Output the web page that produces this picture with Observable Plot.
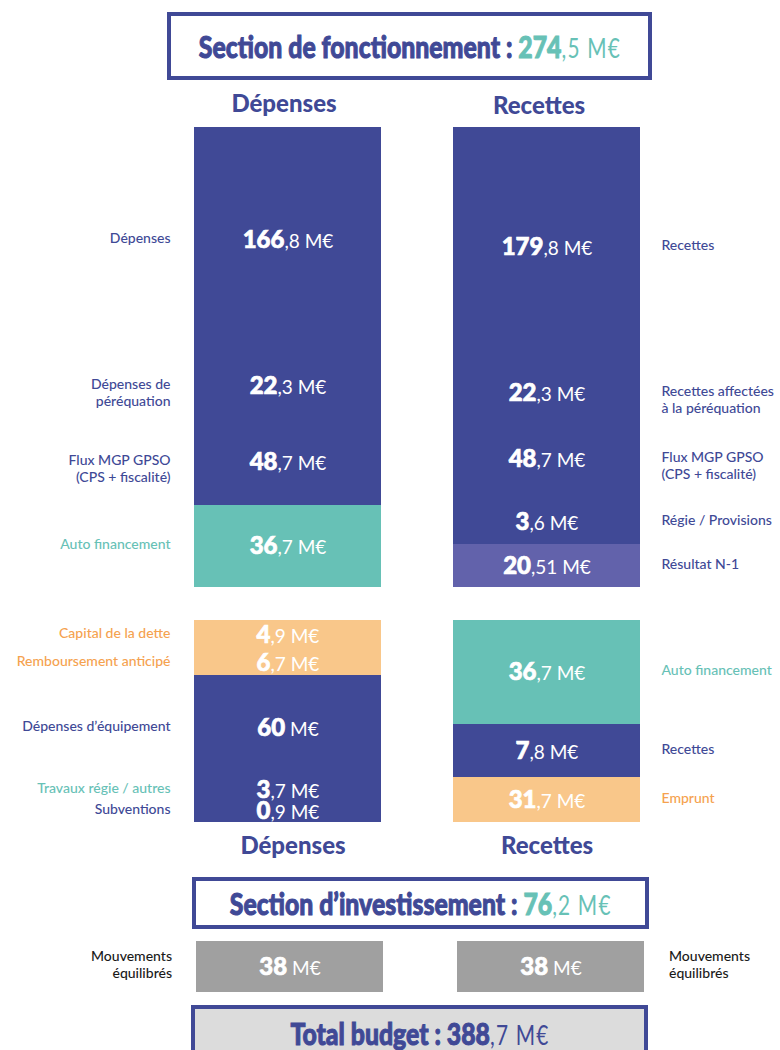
<!DOCTYPE html>
<html><head><meta charset="utf-8">
<script src="https://cdn.jsdelivr.net/npm/d3@7"></script>
<script src="https://cdn.jsdelivr.net/npm/@observablehq/plot@0.6"></script>
<style>
body{margin:0;background:#fff;font-family:Lato,"Noto Sans",sans-serif;}
#page{position:relative;width:780px;height:1050px;overflow:hidden;background:#fff;}
.box{position:absolute;box-sizing:border-box;border:4px solid #404996;display:flex;align-items:center;justify-content:center;}
.t{display:inline-block;white-space:nowrap;transform:scaleX(0.8);color:#404996;font-weight:900;font-size:31px;line-height:1;-webkit-text-stroke:1px currentColor;}
.t .d{font-weight:400;font-size:26px;letter-spacing:1.5px;-webkit-text-stroke:0;}
.plot{position:absolute;}
.plot svg{overflow:visible;display:block;}
</style></head><body><div id="page"></div>
<script>
// ---------- data ----------
const sectionTitles = ["Section de fonctionnement :", "Section d’investissement :", "Total budget :"];
const sectionTotals = [274.5, 76.2, 388.7];

const fonctDepColumn = "Dépenses";
const fonctDepLabels = ["Dépenses", "Dépenses de\npéréquation", "Flux MGP GPSO\n(CPS + fiscalité)", "Auto financement"];
const fonctDepValues = [166.8, 22.3, 48.7, 36.7];
const fonctDepNatures = ["fonctionnement", "fonctionnement", "fonctionnement", "autofinancement"];

const fonctRecColumn = "Recettes";
const fonctRecLabels = ["Recettes", "Recettes affectées\nà la péréquation", "Flux MGP GPSO\n(CPS + fiscalité)", "Régie / Provisions", "Résultat N-1"];
const fonctRecValues = [179.8, 22.3, 48.7, 3.6, 20.51];
const fonctRecNatures = ["fonctionnement", "fonctionnement", "fonctionnement", "fonctionnement", "resultat"];

const invDepColumn = "Dépenses";
const invDepLabels = ["Capital de la dette", "Remboursement anticipé", "Dépenses d’équipement", "Travaux régie / autres", "Subventions"];
const invDepValues = [4.9, 6.7, 60, 3.7, 0.9];
const invDepNatures = ["dette", "dette", "fonctionnement", "regie", "fonctionnement"];

const invRecColumn = "Recettes";
const invRecLabels = ["Auto financement", "Recettes", "Emprunt"];
const invRecValues = [36.7, 7.8, 31.7];
const invRecNatures = ["autofinancement", "fonctionnement", "dette"];

const mvColumns = ["Dépenses", "Recettes"];
const mvLabels = ["Mouvements\néquilibrés", "Mouvements\néquilibrés"];
const mvValues = [38, 38];

// ---------- layout & style (not data) ----------
const blue = "#404996", teal = "#67c1b6", orangeBar = "#f9c78a", orangeText = "#f5a24f", purple = "#6262ab", gray = "#a0a0a0";
const natureStyle = {
  fonctionnement: {bar: blue, label: blue},
  autofinancement: {bar: teal, label: teal},
  dette: {bar: orangeBar, label: orangeText},
  resultat: {bar: purple, label: blue},
  regie: {bar: blue, label: teal}
};
// displayed pixel height of each segment (the original infographic is not drawn to scale)
const fonctDepHeights = [226, 66, 86, 82];
const fonctRecHeights = [240, 51, 82, 44, 43];
const invDepHeights = [30, 25, 105, 20, 22];
const invRecHeights = [104, 53, 45];

const page = document.getElementById("page");
const ns = "http://www.w3.org/2000/svg";
const fmt = v => String(v).replace(".", ",") + " M€";

function richify(svg) {
  svg.querySelectorAll("text").forEach(t => {
    const m = t.textContent.match(/^(\d+)(.*M€)$/);
    if (!m) return;
    t.textContent = "";
    const a = document.createElementNS(ns, "tspan");
    a.textContent = m[1]; a.setAttribute("font-weight", "900");
    a.setAttribute("stroke", "white"); a.setAttribute("stroke-width", "0.7");
    const b = document.createElementNS(ns, "tspan");
    b.textContent = m[2]; b.setAttribute("font-weight", "400"); b.setAttribute("font-size", "19");
    t.append(a, b);
  });
}
function place(node, left, top) {
  const d = document.createElement("div");
  d.className = "plot"; d.style.left = left + "px"; d.style.top = top + "px";
  d.append(node); page.append(d);
}
function titleBox(i, color, css) {
  const [int, dec] = String(sectionTotals[i]).split(".");
  const d = document.createElement("div");
  d.className = "box";
  Object.assign(d.style, css);
  d.innerHTML = `<span class="t">${sectionTitles[i]} <span style="color:${color}">${int}</span><span class="d" style="color:${color}">,${dec} M€</span></span>`;
  page.append(d);
}

function columnPlot(o) {
  let acc = 0;
  const data = o.values.map((v, i) => { const y1 = acc; acc += v; return {col: o.column, label: o.labels[i], value: v, nature: o.natures[i], y1, y2: acc}; });
  // piecewise warp: cumulative M€ -> displayed units (infographic proportions)
  let h = 0;
  const warp = d3.scaleLinear().domain([0, ...data.map(d => d.y2)]).range([0, ...o.heights.map(x => (h += x))]);
  const left = o.side === "left";
  const half = (o.barRange[1] - o.barRange[0]) / 2;
  const mid = d => warp((d.y1 + d.y2) / 2);
  const svg = Plot.plot({
    width: 390, height: o.height, marginTop: o.barTop, marginBottom: o.height - o.barTop - h, marginLeft: 0, marginRight: 0,
    style: {fontFamily: "Lato, 'Noto Sans', sans-serif", background: "transparent", overflow: "visible"},
    x: {type: "band", domain: [o.column], range: o.barRange, padding: 0},
    y: {domain: [0, h], range: [o.barTop, o.barTop + h], axis: null},
    color: {type: "identity"},
    marks: [
      Plot.barY(data, {x: "col", y1: d => warp(d.y1), y2: d => warp(d.y2), fill: d => natureStyle[d.nature].bar}),
      Plot.text(data, {x: "col", y: mid, text: d => fmt(d.value), fill: "white", fontSize: 24, fontWeight: 900}),
      Plot.text(data, {x: "col", y: mid, text: "label", fill: d => natureStyle[d.nature].label,
        textAnchor: left ? "end" : "start", dx: left ? -(half + 24) : (half + 21),
        fontSize: 14, fontWeight: 500, lineAnchor: "top", dy: -9, lineHeight: 1.2}),
      Plot.axisX({anchor: o.axisAnchor, tickSize: 0, tickPadding: o.tickPadding, fontSize: 24, fontWeight: 900,
        fill: blue, stroke: blue, strokeWidth: 0.8, label: null, dx: o.headerDx})
    ]
  });
  richify(svg);
  place(svg, o.left, o.top);
}

// titles
titleBox(0, teal, {left: "167px", top: "12px", width: "485px", height: "68px"});
titleBox(1, teal, {left: "192px", top: "877px", width: "457px", height: "52px"});
titleBox(2, blue, {left: "191px", top: "1005px", width: "457px", height: "56px", background: "#dcdcdc"});

// fonctionnement
columnPlot({column: fonctDepColumn, labels: fonctDepLabels, values: fonctDepValues, natures: fonctDepNatures, heights: fonctDepHeights,
  left: 0, top: 80, height: 520, barTop: 47, barRange: [194, 381], side: "left", axisAnchor: "top", tickPadding: 16, headerDx: -4});
columnPlot({column: fonctRecColumn, labels: fonctRecLabels, values: fonctRecValues, natures: fonctRecNatures, heights: fonctRecHeights,
  left: 390, top: 80, height: 520, barTop: 47, barRange: [63, 250], side: "right", axisAnchor: "top", tickPadding: 14, headerDx: -8});
// investissement
columnPlot({column: invDepColumn, labels: invDepLabels, values: invDepValues, natures: invDepNatures, heights: invDepHeights,
  left: 0, top: 600, height: 260, barTop: 20, barRange: [194, 381], side: "left", axisAnchor: "bottom", tickPadding: 14, headerDx: 5});
columnPlot({column: invRecColumn, labels: invRecLabels, values: invRecValues, natures: invRecNatures, heights: invRecHeights,
  left: 390, top: 600, height: 260, barTop: 20, barRange: [63, 250], side: "right", axisAnchor: "bottom", tickPadding: 14, headerDx: 0});

// mouvements équilibrés
{
  const mv = mvColumns.map((c, i) => ({col: c, label: mvLabels[i], value: mvValues[i]}));
  const svg = Plot.plot({
    width: 780, height: 70, margin: 0,
    style: {fontFamily: "Lato, 'Noto Sans', sans-serif", background: "transparent", overflow: "visible"},
    x: {type: "band", domain: mvColumns, range: [195, 645], paddingInner: 0.2824, paddingOuter: 0, axis: null},
    y: {domain: [0, d3.max(mvValues)], range: [11, 62], axis: null},
    marks: [
      Plot.barY(mv, {x: "col", y1: 0, y2: "value", fill: gray}),
      Plot.text(mv, {x: "col", y: d => d.value / 2, text: d => fmt(d.value), fill: "white", fontSize: 24, fontWeight: 900}),
      Plot.text(mv.filter(d => d.col === mvColumns[0]), {x: "col", y: d => d.value / 2, text: "label", fill: "#1a1a1a", textAnchor: "end", dx: -118, dy: -3, fontSize: 14, fontWeight: 500, lineHeight: 1.2}),
      Plot.text(mv.filter(d => d.col === mvColumns[1]), {x: "col", y: d => d.value / 2, text: "label", fill: "#1a1a1a", textAnchor: "start", dx: 118, dy: -3, fontSize: 14, fontWeight: 500, lineHeight: 1.2})
    ]
  });
  richify(svg);
  place(svg, 0, 930);
}
</script></body></html>
